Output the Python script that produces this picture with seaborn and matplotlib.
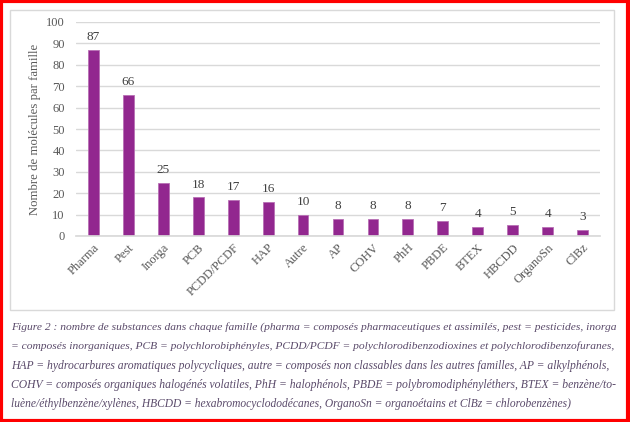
import matplotlib
matplotlib.use("Agg")
import matplotlib.pyplot as plt
import seaborn as sns
import pandas as pd
from matplotlib.patches import Rectangle

categories = ["Pharma", "Pest", "Inorga", "PCB", "PCDD/PCDF", "HAP", "Autre", "AP",
              "COHV", "PhH", "PBDE", "BTEX", "HBCDD", "OrganoSn", "ClBz"]
counts = [87, 66, 25, 18, 17, 16, 10, 8, 8, 8, 7, 4, 5, 4, 3]
yticks = [0, 10, 20, 30, 40, 50, 60, 70, 80, 90, 100]
ylabel = "Nombre de molécules par famille"
caption_lines = [
    "Figure 2 : nombre de substances dans chaque famille (pharma = composés pharmaceutiques et assimilés, pest = pesticides, inorga",
    "= composés inorganiques, PCB = polychlorobiphényles, PCDD/PCDF = polychlorodibenzodioxines et polychlorodibenzofuranes,",
    "HAP = hydrocarbures aromatiques polycycliques, autre = composés non classables dans les autres familles, AP = alkylphénols,",
    "COHV = composés organiques halogénés volatiles, PhH = halophénols, PBDE = polybromodiphényléthers, BTEX = benzène/to-",
    "luène/éthylbenzène/xylènes, HBCDD = hexabromocyclododécanes, OrganoSn = organoétains et ClBz = chlorobenzènes)",
]

df = pd.DataFrame({"famille": categories, "n": counts})

sns.set_theme(style="white")
plt.rcParams["font.family"] = ["Liberation Serif", "DejaVu Serif"]

W, H = 630, 422
fig = plt.figure(figsize=(W / 100, H / 100), dpi=100)
fig.patch.set_facecolor("white")

def fx(px):
    return px / W

def fy(py):
    return 1 - py / H

# chart box and red frame
fig.add_artist(Rectangle((fx(10), fy(310)), fx(604), (300) / H, transform=fig.transFigure,
                         fill=False, edgecolor="#d9d9d9", linewidth=1.0))
fig.add_artist(Rectangle((0.002, 0.003), 0.995, 0.994, transform=fig.transFigure,
                         fill=False, edgecolor="#ff0000", linewidth=3.0))

ax = fig.add_axes([fx(76), fy(236), fx(600 - 76), (236 - 22) / H])
sns.barplot(data=df, x="famille", y="n", color="#92278f", width=0.31, ax=ax,
            edgecolor="#b870b5", linewidth=0.6, saturation=1)
ax.set_xlim(-0.5, len(categories) - 0.5)
ax.set_ylim(0, 100)
ax.set_yticks(yticks)
ax.yaxis.grid(True, color="#d9d9d9", linewidth=1.0)
ax.set_axisbelow(True)
for s in ["top", "right", "left"]:
    ax.spines[s].set_visible(False)
ax.spines["bottom"].set_color("#d9d9d9")
ax.tick_params(axis="both", length=0, colors="#595959", labelsize=9)
ax.tick_params(axis="y", pad=8)
ax.tick_params(axis="x", pad=4)
ax.set_xlabel("")
ax.set_ylabel(ylabel, color="#595959", fontsize=9.2, labelpad=4)
ax.set_xticks(range(len(categories)))
ax.set_xticklabels(categories, rotation=45, ha="right", rotation_mode="anchor")
ax.bar_label(ax.containers[0], fontsize=9.5, color="#404040", padding=5)

ys = [327, 346, 366, 385, 404]
targets = [603, 601, 601, 602, 562]
renderer = fig.canvas.get_renderer()
for line, y, tw in zip(caption_lines, ys, targets):
    t = fig.text(fx(11), fy(y), line, fontsize=10, style="italic", color="#5a4a6a",
                 va="center", ha="left")
    w = t.get_window_extent(renderer).width
    t.set_fontsize(10 * tw / w)

fig.savefig("out.png", dpi=100)
